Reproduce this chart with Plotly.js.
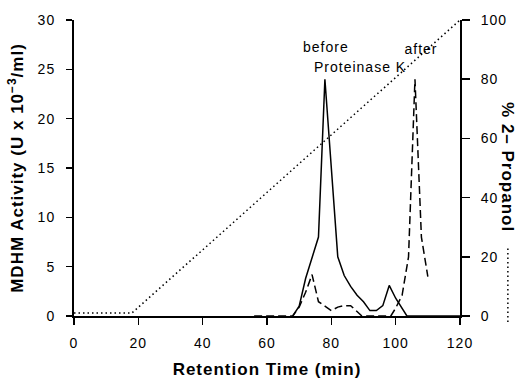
<!DOCTYPE html>
<html>
<head>
<meta charset="utf-8">
<script src="https://cdn.plot.ly/plotly-3.0.1.min.js"></script>
<style>
  html, body { margin: 0; padding: 0; background: #fff; }
  #chart { width: 519px; height: 379px; }
  #chart text { letter-spacing: 1px; }
</style>
</head>
<body>
<div id="chart"></div>
<script>
// Retention time (min) and MDHM activity (U x 10^-3/ml)
const timeBefore = [68, 70, 72, 74, 76, 78, 80, 82, 84, 86, 88, 90, 92, 94, 96, 98, 100, 102, 103.5, 120];
const activityBefore = [0, 1, 3.8, 5.9, 8, 24, 15, 6, 4.1, 3, 2.1, 1.45, 0.55, 0.55, 1.05, 3.1, 1.8, 0.8, 0, 0];

const timeAfter = [56, 68, 70, 72, 74, 76, 78, 80, 82, 84, 86, 88, 89.5, 98.5, 100, 102, 104, 106, 108, 110];
const activityAfter = [0, 0, 0.9, 2.4, 4.2, 1.45, 1.0, 0.55, 0.9, 1.05, 1.05, 0.5, 0, 0, 0.8, 2.1, 6, 24, 8, 4];

// % 2-Propanol gradient
const timePropanol = [0, 18, 120];
const propanol = [1, 1, 100];

const xTicks = [0, 20, 40, 60, 80, 100, 120];
const yTicks = [0, 5, 10, 15, 20, 25, 30];
const y2Ticks = [0, 20, 40, 60, 80, 100];

const FONT = "Liberation Sans, Arial, Helvetica, sans-serif";

const traces = [
  {
    x: timePropanol, y: propanol, yaxis: 'y2', type: 'scatter', mode: 'lines',
    line: { color: '#000', width: 1.5, dash: '1.5px,3px' }, hoverinfo: 'skip'
  },
  {
    x: timeBefore, y: activityBefore, type: 'scatter', mode: 'lines',
    line: { color: '#000', width: 1.5 }
  },
  {
    x: timeAfter, y: activityAfter, type: 'scatter', mode: 'lines',
    line: { color: '#000', width: 1.5, dash: '8px,4px' }
  }
];

const layout = {
  width: 519, height: 379,
  margin: { l: 74, r: 59, t: 20, b: 63, pad: 0 },
  paper_bgcolor: '#fff', plot_bgcolor: '#fff',
  showlegend: false,
  font: { family: FONT, color: '#000', size: 14 },
  xaxis: {
    range: [0, 120], tickvals: xTicks, ticktext: xTicks.map(String),
    showgrid: false, zeroline: false,
    showline: true, linecolor: '#000', linewidth: 2,
    ticks: 'outside', ticklen: 7, tickwidth: 1.5, tickcolor: '#000',
    ticklabelstandoff: 6,
    tickfont: { family: FONT, size: 14, color: '#000' },
    title: { text: 'Retention Time (min)', standoff: 14,
             font: { family: FONT, size: 17, color: '#000', weight: 'bold' } }
  },
  yaxis: {
    range: [0, 30], tickvals: yTicks, ticktext: yTicks.map(String),
    showgrid: false, zeroline: false,
    showline: true, linecolor: '#000', linewidth: 2,
    ticks: 'outside', ticklen: 6, tickwidth: 1.5, tickcolor: '#000',
    ticklabelstandoff: 8,
    tickfont: { family: FONT, size: 14, color: '#000' },
    title: { text: 'MDHM Activity (U x 10<sup>−3</sup>/ml)', standoff: 12,
             font: { family: FONT, size: 17, color: '#000', weight: 'bold' } }
  },
  yaxis2: {
    range: [0, 100], tickvals: y2Ticks, ticktext: y2Ticks.map(String),
    overlaying: 'y', side: 'right',
    showgrid: false, zeroline: false,
    showline: true, linecolor: '#000', linewidth: 2,
    ticks: 'outside', ticklen: 8, tickwidth: 1.5, tickcolor: '#000',
    ticklabelstandoff: 8,
    tickfont: { family: FONT, size: 14, color: '#000' }
  },
  annotations: [
    { x: 78.2, y: 27.25, xref: 'x', yref: 'y', text: 'before', showarrow: false,
      font: { family: FONT, size: 14, color: '#000' }, xanchor: 'center', yanchor: 'middle' },
    { x: 89.2, y: 25.2, xref: 'x', yref: 'y', text: 'Proteinase K', showarrow: false,
      font: { family: FONT, size: 14, color: '#000' }, xanchor: 'center', yanchor: 'middle' },
    { x: 108, y: 27.05, xref: 'x', yref: 'y', text: 'after', showarrow: false,
      font: { family: FONT, size: 14, color: '#000' }, xanchor: 'center', yanchor: 'middle' },
    { x: 1.124, y: 0.502, xref: 'paper', yref: 'paper', text: '% 2– Propanol', textangle: 90,
      showarrow: false, xanchor: 'center', yanchor: 'middle',
      font: { family: FONT, size: 17, color: '#000', weight: 'bold' } }
  ],
  shapes: [
    { type: 'line', xref: 'paper', yref: 'paper', x0: 1.124, x1: 1.124, y0: -0.02, y1: 0.233,
      line: { color: '#000', width: 1.5, dash: '1.5px,3px' } }
  ]
};

Plotly.newPlot('chart', traces, layout, { displayModeBar: false, staticPlot: true });
</script>
</body>
</html>
